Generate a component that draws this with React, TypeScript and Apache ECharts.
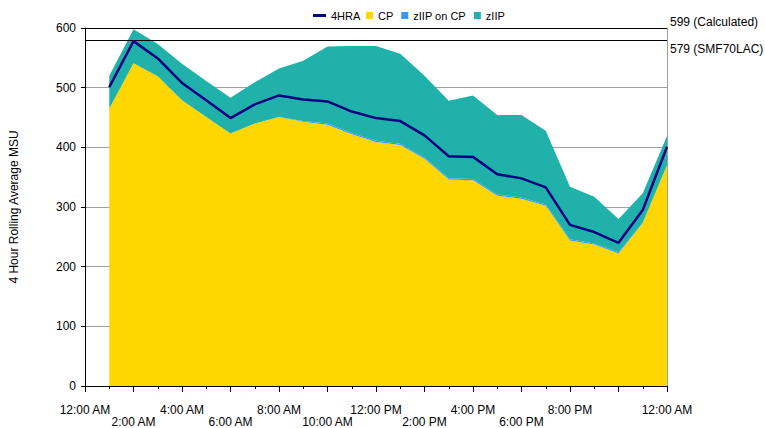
import React, { useEffect, useRef } from "react";
import * as echarts from "echarts";

const hourCategories = ["0", "1", "2", "3", "4", "5", "6", "7", "8", "9", "10", "11", "12", "13", "14", "15", "16", "17", "18", "19", "20", "21", "22", "23", "24"];
const cpValues = [465, 541, 519, 479, 451, 423, 440, 451, 443, 438, 422, 409, 404, 381, 346, 345, 319, 314, 302, 244, 237, 222, 273, 370];
const ziipOnCpValues = [0, 0, 0, 0, 0, 0, 0, 0, 1, 2, 2, 2, 2, 2, 2, 2, 2, 2, 2, 2, 2, 2, 1, 0];
const ziipValues = [55, 57, 54, 61, 60, 60, 69, 81, 101, 129, 146, 159, 151, 137, 130, 140, 133, 138, 124, 88, 78, 56, 49, 49];
const hraValues = [501, 578, 549, 508, 479, 449, 472, 487, 480, 477, 460, 449, 444, 420, 385, 384, 355, 348, 333, 270, 258, 240, 295, 401];
const xTickLabels = [
  "12:00 AM", "2:00 AM", "4:00 AM", "6:00 AM", "8:00 AM", "10:00 AM",
  "12:00 PM", "2:00 PM", "4:00 PM", "6:00 PM", "8:00 PM", "10:00 PM", "12:00 AM",
];
const capacityLines = [
  { name: "Calculated", value: 599 },
  { name: "SMF70LAC", value: 579 },
];

const FONT = "'Liberation Sans', Arial, sans-serif";

// first category (midnight) has no sample
const withGap = (vals: number[]) => ["-", ...vals];

export default function App() {
  const ref = useRef<HTMLDivElement>(null);
  useEffect(() => {
    document.body.style.margin = "0";
    if (!ref.current) return;
    const chart = echarts.init(ref.current, null, { renderer: "svg" });
    chart.setOption({
      animation: false,
      textStyle: { fontFamily: FONT, color: "#000" },
      legend: [
        {
          left: 308,
          top: 5,
          itemWidth: 13,
          itemHeight: 3,
          textStyle: { fontSize: 11, color: "#000", fontFamily: FONT },
          data: [{ name: "4HRA", icon: "rect" }],
        },
        {
          left: 361,
          top: 5,
          itemWidth: 7,
          itemHeight: 7,
          itemGap: 8,
          textStyle: { fontSize: 11, color: "#000", fontFamily: FONT },
          data: [
            { name: "CP", icon: "rect" },
            { name: "zIIP on CP", icon: "rect" },
            { name: "zIIP", icon: "rect" },
          ],
        },
      ],
      grid: { left: 80, right: 98, top: 28, bottom: 41, containLabel: false },
      xAxis: [
        {
          type: "category",
          data: hourCategories,
          boundaryGap: false,
          show: false,
        },
        {
          type: "value",
          min: 0,
          max: 24,
          interval: 2,
          position: "bottom",
          axisLine: { show: true, lineStyle: { color: "#000", width: 1 } },
          axisTick: { show: true, length: 6, lineStyle: { color: "#000" } },
          minorTick: { show: true, splitNumber: 2, length: 3, lineStyle: { color: "#000" } },
          splitLine: { show: false },
          axisLabel: {
            margin: 18,
            fontSize: 12,
            color: "#000",
            fontFamily: FONT,
            lineHeight: 12,
            showMinLabel: true,
            showMaxLabel: true,
            hideOverlap: false,
            formatter: (v: number) => {
              const idx = Math.round(v / 2);
              const lab = xTickLabels[idx] ?? "";
              return idx % 2 === 1 ? "\n" + lab : lab;
            },
          },
        },
      ],
      yAxis: [
        {
          type: "value",
          min: 0,
          max: 600,
          interval: 100,
          name: "4 Hour Rolling Average MSU",
          nameLocation: "middle",
          nameGap: 65,
          nameTextStyle: { fontSize: 12, color: "#000", fontFamily: FONT },
          axisLine: { show: true, lineStyle: { color: "#000", width: 1 } },
          axisTick: { show: true, length: 4, lineStyle: { color: "#000" } },
          axisLabel: { margin: 9, fontSize: 12, color: "#000", fontFamily: FONT },
          splitLine: { show: true, lineStyle: { color: "#A0A0A0", width: 1 } },
        },
        {
          type: "value",
          min: 0,
          max: 600,
          interval: 100,
          position: "right",
          axisLine: { show: true, lineStyle: { color: "#A0A0A0", width: 1 } },
          axisTick: { show: false },
          axisLabel: { show: false },
          splitLine: { show: false },
        },
      ],
      series: [
        {
          name: "CP",
          type: "line",
          stack: "total",
          xAxisIndex: 0,
          data: withGap(cpValues),
          symbol: "none",
          lineStyle: { width: 0 },
          itemStyle: { color: "#FFD700" },
          areaStyle: { color: "#FFD700", opacity: 1 },
        },
        {
          name: "zIIP on CP",
          type: "line",
          stack: "total",
          xAxisIndex: 0,
          data: withGap(ziipOnCpValues),
          symbol: "none",
          lineStyle: { width: 0 },
          itemStyle: { color: "#3399FF" },
          areaStyle: { color: "#3399FF", opacity: 1 },
        },
        {
          name: "zIIP",
          type: "line",
          stack: "total",
          xAxisIndex: 0,
          data: withGap(ziipValues),
          symbol: "none",
          lineStyle: { width: 0 },
          itemStyle: { color: "#20B2AA" },
          areaStyle: { color: "#20B2AA", opacity: 1 },
        },
        {
          name: "4HRA",
          type: "line",
          xAxisIndex: 0,
          data: withGap(hraValues),
          symbol: "none",
          itemStyle: { color: "#000080" },
          lineStyle: { color: "#000080", width: 2.5 },
          z: 5,
          markLine: {
            silent: true,
            symbol: ["none", "none"],
            lineStyle: { color: "#000", width: 1, type: "solid" },
            label: {
              position: "end",
              distance: 3,
              formatter: "{c} ({b})",
              fontSize: 12,
              color: "#000",
              fontFamily: FONT,
            },
            data: capacityLines.map((c, i) => ({
              name: c.name,
              yAxis: c.value,
              label: { offset: [0, i === 0 ? -7 : 8] },
            })),
          },
        },
      ],
    });
    return () => chart.dispose();
  }, []);
  return <div ref={ref} style={{ width: 765, height: 428 }} />;
}
